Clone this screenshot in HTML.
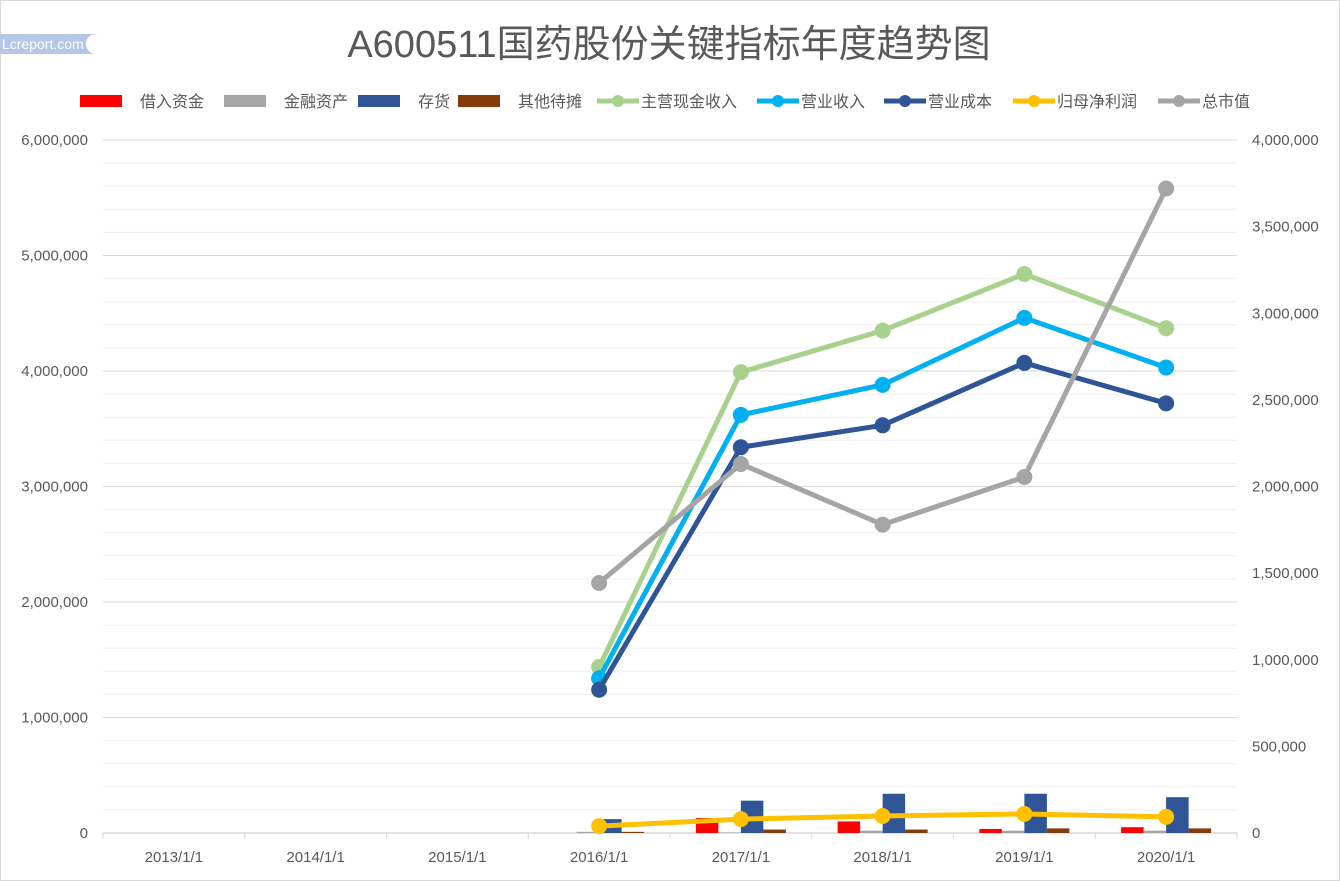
<!DOCTYPE html>
<html><head><meta charset="utf-8"><style>
body{margin:0;background:#fff;font-family:"Liberation Sans","Noto Sans CJK SC",sans-serif;}
#wrap{position:relative;width:1340px;height:881px;overflow:hidden;}
</style></head><body>
<div id="wrap">
<svg id="chart" width="1340" height="881" style="position:absolute;left:0;top:0"></svg>
</div>
<script>
const categories=["2013/1/1","2014/1/1","2015/1/1","2016/1/1","2017/1/1","2018/1/1","2019/1/1","2020/1/1"];
const borrowed=[null,null,null,0,130000,100000,35000,50000];
const finAssets=[null,null,null,10000,5000,20000,20000,20000];
const inventory=[null,null,null,120000,280000,340000,340000,310000];
const otherDeferred=[null,null,null,10000,30000,30000,40000,40000];
const cashRevenue=[null,null,null,1437000,3990000,4350000,4840000,4370000];
const revenue=[null,null,null,1340000,3620000,3880000,4460000,4030000];
const cost=[null,null,null,1240000,3340000,3530000,4070000,3720000];
const netProfit=[null,null,null,60000,120000,147000,165000,140000];
const marketCap=[null,null,null,1443000,2130000,1780000,2055000,3720000];
const leftTicks=[0,1000000,2000000,3000000,4000000,5000000,6000000];
const rightTicks=[0,500000,1000000,1500000,2000000,2500000,3000000,3500000,4000000];

const NS="http://www.w3.org/2000/svg";
const svg=document.getElementById('chart');
function mk(t,a,p){const e=document.createElementNS(NS,t);for(const k in a)e.setAttribute(k,a[k]);(p||svg).appendChild(e);return e;}
const X0=103,X1=1237,Y0=833,Y1=140;
const bw=(X1-X0)/categories.length;
const xc=i=>X0+bw*(i+0.5);
const yL=v=>Y0-(v/6000000)*(Y0-Y1);
const yR=v=>Y0-(v/4000000)*(Y0-Y1);
const fmt=v=>v.toLocaleString('en-US');

let r=mk('rect',{x:0.5,y:0.5,width:1339,height:880,fill:'#fff',stroke:'#d9d9d9'});


let lg=mk('rect',{x:0,y:34,width:98,height:20,fill:'#b4c7e7',rx:0});


let lc=mk('circle',{cx:96,cy:44,r:10,fill:'#fff'});


let lt=mk('text',{x:2,y:49,'font-size':14,fill:'#fff'});lt.textContent='Lcreport.com';


let ti=mk('text',{x:669,y:57,'font-size':38,fill:'#595959','text-anchor':'middle'});ti.textContent='A600511国药股份关键指标年度趋势图';



for(let v=200000;v<=6000000;v+=200000){
  const major=v%1000000===0;
  let g=mk('line',{x1:X0,x2:X1,y1:yL(v),y2:yL(v),stroke:major?'#d9d9d9':'#efefef','stroke-width':1});
  
  
}
leftTicks.forEach(v=>{let t=mk('text',{x:88,y:yL(v)+5,'font-size':15,fill:'#595959','text-anchor':'end'});t.textContent=fmt(v);
  
  });
rightTicks.forEach(v=>{let t=mk('text',{x:1252,y:yR(v)+5,'font-size':15,fill:'#595959'});t.textContent=fmt(v);
  
  });
let ax=mk('line',{x1:X0,x2:X1,y1:Y0,y2:Y0,stroke:'#d9d9d9','stroke-width':1.5});


for(let i=0;i<=categories.length;i++){let tk=mk('line',{x1:X0+bw*i,x2:X0+bw*i,y1:Y0,y2:Y0+6,stroke:'#d9d9d9'});
  
  }
categories.forEach((c,i)=>{let t=mk('text',{x:xc(i),y:862,'font-size':15,fill:'#595959','text-anchor':'middle'});t.textContent=c;
  
  });

const bars=[[borrowed,'#ff0000','bar-borrowed'],[finAssets,'#a5a5a5','bar-financial-assets'],[inventory,'#2f5597','bar-inventory'],[otherDeferred,'#843c0c','bar-other-deferred']];
const slot=22.5;
bars.forEach((b,k)=>{b[0].forEach((v,i)=>{if(v==null)return;
  const x=xc(i)-2*slot+k*slot;const y=yL(v);
  let e=mk('rect',{x:x,y:y,width:slot,height:Y0-y,fill:b[1]});
  
  
});});

const lines=[[cashRevenue,'#a9d18e',yL,'line-cash-revenue'],[revenue,'#00b0f0',yL,'line-revenue'],[cost,'#2f5597',yL,'line-cost'],[netProfit,'#ffc000',yL,'line-net-profit'],[marketCap,'#a5a5a5',yR,'line-market-cap']];
lines.forEach(l=>{
  const pts=[];l[0].forEach((v,i)=>{if(v!=null)pts.push([xc(i),l[2](v)]);});
  let p=mk('polyline',{points:pts.map(p=>p.join(',')).join(' '),fill:'none',stroke:l[1],'stroke-width':5,'stroke-linejoin':'round'});
  
  
  pts.forEach(q=>{let c=mk('circle',{cx:q[0],cy:q[1],r:8,fill:l[1]});
    
    });
});

const leg=[['借入资金','#ff0000','bar',80],['金融资产','#a5a5a5','bar',224],['存货','#2f5597','bar',358],['其他待摊','#843c0c','bar',458],['主营现金收入','#a9d18e','line',597],['营业收入','#00b0f0','line',757],['营业成本','#2f5597','line',884],['归母净利润','#ffc000','line',1013],['总市值','#a5a5a5','line',1158]];
leg.forEach(l=>{
  const g=mk('g',{});
  
  
  if(l[2]==='bar'){mk('rect',{x:l[3],y:95,width:42,height:12,fill:l[1]},g);}
  else{mk('line',{x1:l[3],x2:l[3]+42,y1:101,y2:101,stroke:l[1],'stroke-width':5},g);mk('circle',{cx:l[3]+21,cy:101,r:6,fill:l[1]},g);}
  const t=mk('text',{x:l[3]+(l[2]==='bar'?60:44),y:107,'font-size':16,fill:'#595959'},g);t.textContent=l[0];
});
</script>
</body></html>
